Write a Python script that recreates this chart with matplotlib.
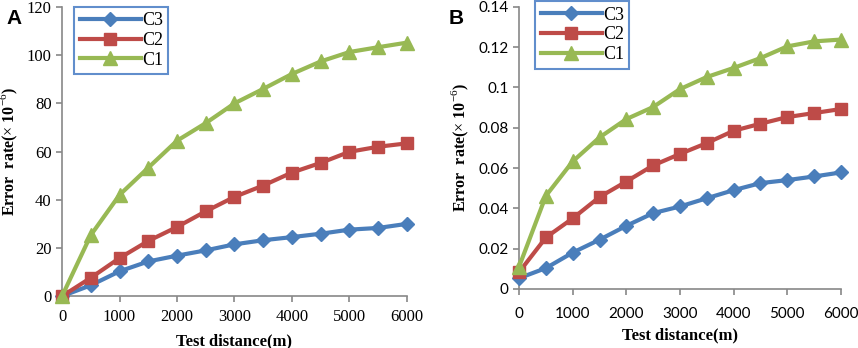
import numpy as np
import matplotlib
matplotlib.use('Agg')
import matplotlib.pyplot as plt

plt.rcParams['mathtext.fontset'] = 'custom'
plt.rcParams['mathtext.rm'] = 'Liberation Serif'
plt.rcParams['mathtext.bf'] = 'Liberation Serif:bold'

distance = [0, 500, 1000, 1500, 2000, 2500, 3000, 3500, 4000, 4500, 5000, 5500, 6000]

a_c3 = [0, 4.5, 10.3, 14.4, 16.8, 19.0, 21.5, 23.2, 24.5, 25.9, 27.6, 28.3, 30.0]
a_c2 = [0, 7.6, 15.8, 22.9, 28.7, 35.2, 41.2, 45.9, 51.3, 55.3, 59.9, 62.0, 63.4]
a_c1 = [0, 25.3, 42.0, 53.3, 64.5, 71.8, 80.0, 86.0, 92.2, 97.4, 101.3, 103.3, 105.2]

b_c3 = [0.0053, 0.0103, 0.018, 0.0244, 0.0313, 0.0376, 0.0409, 0.045, 0.049, 0.0525, 0.054, 0.0558, 0.0578]
b_c2 = [0.0083, 0.0255, 0.035, 0.0456, 0.0533, 0.0613, 0.067, 0.0724, 0.0785, 0.082, 0.0853, 0.0873, 0.0893]
b_c1 = [0.011, 0.0462, 0.0633, 0.0752, 0.0843, 0.0903, 0.0992, 0.1052, 0.1097, 0.1146, 0.1204, 0.1229, 0.1238]

series_names = ['C3', 'C2', 'C1']
colors = ['#4A7EBB', '#BE4B48', '#98B954']
markers = ['D', 's', '^']
msizes = [7.5, 8.5, 10]

fig = plt.figure(figsize=(8.58, 3.48), dpi=100)
axA = fig.add_axes([0.0723, 0.149, 0.402, 0.831])
axB = fig.add_axes([0.605, 0.170, 0.375, 0.810])

serif = 'Liberation Serif'


def draw(ax, ys, ylim, yticks, yticklabels, tick_font, tick_size, xpad, xlabelpad, legend_bbox):
    for y, name, c, m, ms in zip(ys, series_names, colors, markers, msizes):
        ax.plot(distance, y, color=c, marker=m, markersize=ms, linewidth=3,
                label=name, clip_on=False, zorder=3)
    ax.set_xlim(0, 6000)
    ax.set_ylim(*ylim)
    ax.set_xticks(distance[::2])
    ax.set_xticklabels([str(v) for v in distance[::2]], fontfamily=tick_font, fontsize=tick_size)
    ax.set_yticks(yticks)
    ax.set_yticklabels(yticklabels, fontfamily=tick_font, fontsize=tick_size)
    for s in ['top', 'right']:
        ax.spines[s].set_visible(False)
    for s in ['left', 'bottom']:
        ax.spines[s].set_color('#888888')
        ax.spines[s].set_linewidth(1.2)
    ax.tick_params(colors='#888888', labelcolor='black', length=4, width=1.2)
    ax.tick_params(axis='x', pad=xpad)
    ax.set_xlabel('Test distance(m)', fontfamily=serif, fontweight='bold', fontsize=12, labelpad=xlabelpad)
    ax.set_ylabel(r'Error  rate($\times$ 10$^{-6}$)', fontfamily=serif, fontweight='bold',
                  fontsize=11.5, labelpad=5)
    leg = ax.legend(loc='upper left', bbox_to_anchor=legend_bbox, frameon=True, fancybox=False,
                    prop={'family': serif, 'size': 13}, handlelength=3.4, handletextpad=0.05,
                    labelspacing=0.15, borderpad=0.3, borderaxespad=0)
    leg.get_frame().set_edgecolor('#3A72C0')
    leg.get_frame().set_linewidth(1.5)


draw(axA, [a_c3, a_c2, a_c1], (0, 120), [0, 20, 40, 60, 80, 100, 120],
     ['0', '20', '40', '60', '80', '100', '120'], serif, 12, 5, 6, (0.035, 1.0))
draw(axB, [b_c3, b_c2, b_c1], (0, 0.14), [0, 0.02, 0.04, 0.06, 0.08, 0.1, 0.12, 0.14],
     ['0', '0.02', '0.04', '0.06', '0.08', '0.1', '0.12', '0.14'], 'Lato', 11, 9, 5, (0.05, 1.02))

fig.text(0.008, 0.975, 'A', fontsize=15, fontweight='bold', fontfamily='Liberation Sans', va='top')
fig.text(0.523, 0.975, 'B', fontsize=15, fontweight='bold', fontfamily='Liberation Sans', va='top')

fig.savefig('out.png', dpi=100)
